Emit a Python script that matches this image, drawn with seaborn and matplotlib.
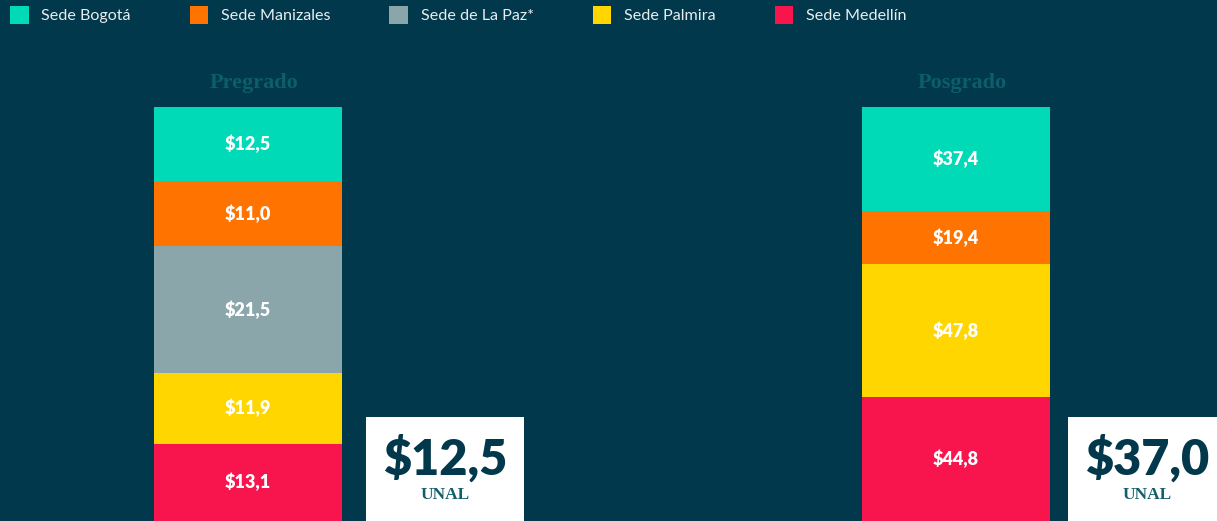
import matplotlib
matplotlib.use("Agg")
import matplotlib.pyplot as plt
import seaborn as sns
import pandas as pd
import numpy as np
from matplotlib.patches import Patch, Rectangle

# data
niveles = ["Pregrado", "Posgrado"]
sedes = ["Sede Bogotá", "Sede Manizales", "Sede de La Paz*", "Sede Palmira", "Sede Medellín"]
pregrado = [12.5, 11.0, 21.5, 11.9, 13.1]
posgrado = [37.4, 19.4, np.nan, 47.8, 44.8]
total_unal = [12.5, 37.0]
colores = ["#00DAB6", "#FF7300", "#8AA6AB", "#FFD600", "#F8154D"]

fondo = "#01384B"

df = pd.DataFrame({"Pregrado": pregrado, "Posgrado": posgrado}, index=sedes).fillna(0)
# share of each segment so every bar fills its column
pct = df / df.sum() * 100
# cumulative from the bottom (Medellín) upwards
cum = pct.iloc[::-1].cumsum().iloc[::-1]

sns.set_style("white")
plt.rcParams["font.family"] = ["Lato", "DejaVu Sans"]

fig = plt.figure(figsize=(12.17, 5.21), dpi=100, facecolor=fondo)
ax = fig.add_axes([0, 0, 1, 414 / 521])
ax.set_facecolor(fondo)

bar_w = 188 / 708
for sede, color in zip(sedes, colores):
    d = pd.DataFrame({"nivel": niveles, "valor": cum.loc[sede].values})
    sns.barplot(data=d, x="nivel", y="valor", color=color, width=bar_w,
                saturation=1, ax=ax, order=niveles, linewidth=0)

# segment labels
for j, nivel in enumerate(niveles):
    for sede in sedes:
        v = df.loc[sede, nivel]
        if v == 0:
            continue
        top = cum.loc[sede, nivel]
        mid = top - pct.loc[sede, nivel] / 2
        ax.text(j, mid, "$" + f"{v:.1f}".replace(".", ","), ha="center", va="center",
                color="white", fontsize=13, fontweight="heavy")

# UNAL boxes
box_off = [24 / 708, 18 / 708]
box_h = 104 / 414 * 100
for j, tot in enumerate(total_unal):
    x0 = j + bar_w / 2 + box_off[j]
    ax.add_patch(Rectangle((x0, 0), 158 / 708, box_h, facecolor="white",
                           edgecolor="none", zorder=3))
    ax.text(x0 + 79 / 708, box_h * 0.60, "$" + f"{tot:.1f}".replace(".", ","),
            ha="center", va="center", color=fondo, fontsize=35,
            fontweight="heavy", zorder=4)
    ax.text(x0 + 79 / 708, box_h * 0.25, "UNAL", ha="center", va="center",
            color="#135E6B", fontsize=12.5, fontweight="bold",
            family="Liberation Serif", zorder=4)
    ax.text(j + 6 / 708, 100 + 24 / 414 * 100, niveles[j], ha="center", va="center",
            color="#0C5E6C", fontsize=16, fontweight="bold",
            family="Liberation Serif", clip_on=False)

ax.set_xlim(-248 / 708, (1217 - 248) / 708)
ax.set_ylim(0, 100)
ax.set_axis_off()

handles = [Patch(facecolor=c, edgecolor="none") for c in colores]
fig.legend(handles, sedes, loc="upper left", bbox_to_anchor=(10 / 1217, 1 - 6 / 521),
           ncol=5, frameon=False, fontsize=11.6, labelcolor="#E8EEF0",
           handlelength=1.15, handleheight=1.3, handletextpad=0.8,
           columnspacing=3.65, borderpad=0, borderaxespad=0)

fig.savefig("out.png", dpi=100, facecolor=fondo)
